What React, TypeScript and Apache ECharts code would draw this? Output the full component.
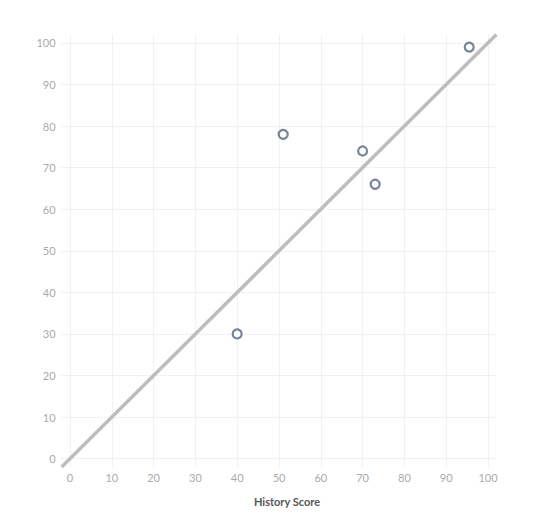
import React, { useEffect, useRef } from "react";
import * as echarts from "echarts";

const historyScores = [40, 51, 70, 73, 95.5];
const otherScores = [30, 78, 74, 66, 99];
const fitLineX = [-2, 102];
const fitLineY = [-2, 102];
const tickValues = [0, 10, 20, 30, 40, 50, 60, 70, 80, 90, 100];
const xAxisTitle = "History Score";

export default function App() {
  const ref = useRef<HTMLDivElement>(null);
  useEffect(() => {
    if (!ref.current) return;
    const chart = echarts.init(ref.current, null, { renderer: "svg" });
    chart.setOption({
      animation: false,
      grid: { left: 53.6, right: 28.6, top: 26.6, bottom: 41.6, containLabel: false },
      xAxis: {
        type: "value",
        min: -2,
        max: 102,
        name: xAxisTitle,
        nameLocation: "middle",
        nameGap: 29,
        nameTextStyle: { color: "#555", fontWeight: "bold", fontSize: 11, fontFamily: "Lato", padding: [0, 0, 0, 16] },
        axisLine: { show: false },
        axisTick: { show: false, customValues: tickValues },
        axisLabel: { color: "#aaa", fontSize: 11, margin: 5, fontFamily: "Lato", customValues: tickValues },
        splitLine: { show: true, lineStyle: { color: "#f1f1f1", width: 1 } },
      },
      yAxis: {
        type: "value",
        min: -2,
        max: 102,
        axisLine: { show: false },
        axisTick: { show: false, customValues: tickValues },
        axisLabel: { color: "#aaa", fontSize: 11, margin: 6, fontFamily: "Lato", customValues: tickValues },
        splitLine: { show: true, lineStyle: { color: "#f1f1f1", width: 1 } },
      },
      series: [
        {
          type: "line",
          data: fitLineX.map((x, i) => [x, fitLineY[i]]),
          showSymbol: false,
          lineStyle: { color: "#bdbdbd", width: 3.5 },
          z: 1,
        },
        {
          type: "scatter",
          data: historyScores.map((x, i) => [x, otherScores[i]]),
          symbol: "circle",
          symbolSize: 9,
          itemStyle: { color: "#ffffff", borderColor: "#56677d", borderWidth: 2.2 },
          z: 3,
        },
      ],
    });
    return () => chart.dispose();
  }, []);
  return <div ref={ref} style={{ width: 517, height: 504 }} />;
}
